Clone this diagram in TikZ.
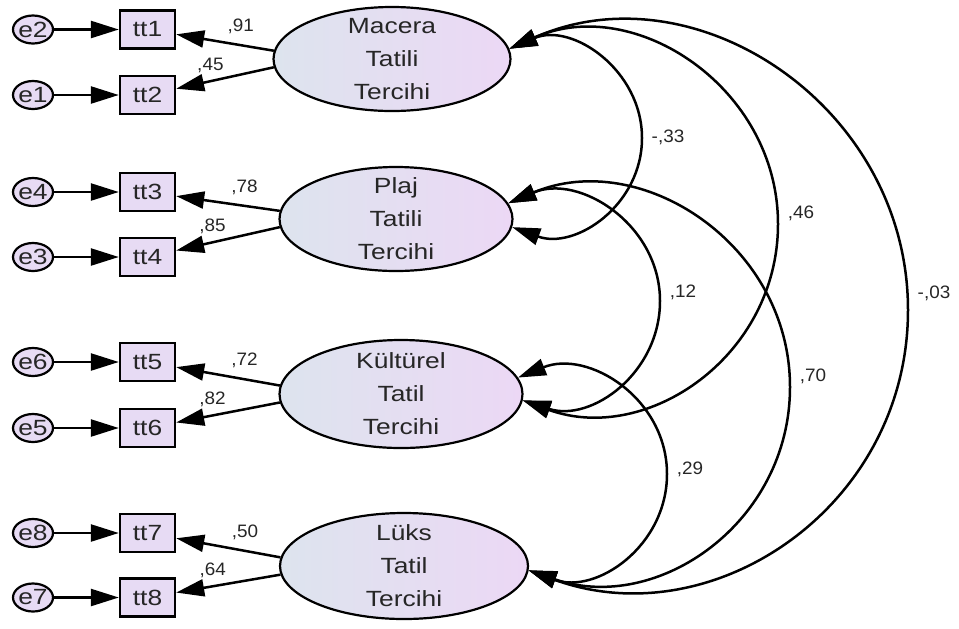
\documentclass[tikz,border=0pt]{standalone}
\usepackage{fontspec}
\usepackage{graphicx}
\setmainfont{Liberation Sans}
\usetikzlibrary{arrows.meta,shapes.geometric}

\definecolor{latleft}{RGB}{221,228,238}
\definecolor{latright}{RGB}{236,216,245}
\definecolor{obsfill}{RGB}{231,219,244}
\definecolor{inktext}{RGB}{38,38,38}

% the diagram is wider than tall: text is stretched sideways
\newcommand{\widen}[1]{\scalebox{1.2}[1]{#1}}
\newcommand{\widecoef}[1]{\scalebox{1.05}[1]{#1}}

\tikzset{
  latent/.style={ellipse, draw, line width=1.1pt, left color=latleft, right color=latright,
    inner xsep=0pt, inner ysep=-4pt, align=center, text=inktext,
    font=\fontsize{11}{16.5}\selectfont},
  indicator/.style={rectangle, draw, line width=1.2pt, fill=obsfill, inner sep=0pt,
    minimum width=27.5pt, minimum height=19pt, text=inktext, font=\fontsize{11}{12}\selectfont},
  errnode/.style={ellipse, draw, line width=1.1pt, fill=obsfill, inner xsep=-3pt, inner ysep=-1pt,
    minimum width=20pt, minimum height=14pt, text=inktext, font=\fontsize{11}{12}\selectfont},
  regpath/.style={line width=1.25pt, -{Triangle[length=14pt,width=8.5pt]}},
  cov/.style={line width=1.25pt, {Triangle[length=14pt,width=8.5pt]}-{Triangle[length=14pt,width=8.5pt]},
    looseness=1.09},
  coef/.style={text=inktext, inner sep=1pt, font=\fontsize{9}{10}\selectfont},
}

\begin{document}
\begin{tikzpicture}[x=0.5pt,y=0.5pt]
  \useasboundingbox (0,0) rectangle (959,-628);

  % latent factors
  \node[latent, minimum width=118.5pt, minimum height=52pt] (mac) at (392,-59)
    {\widen{Macera}\\\widen{Tatili}\\\widen{Tercihi}};
  \node[latent, minimum width=116.5pt, minimum height=52pt] (pla) at (396,-219)
    {\widen{Plaj}\\\widen{Tatili}\\\widen{Tercihi}};
  \node[latent, minimum width=121.5pt, minimum height=54pt] (kul) at (401,-394)
    {\widen{Kültürel}\\\widen{Tatil}\\\widen{Tercihi}};
  \node[latent, minimum width=124pt, minimum height=53pt] (luk) at (404,-566)
    {\widen{Lüks}\\\widen{Tatil}\\\widen{Tercihi}};

  % indicators with their errors
  \foreach \lat/\k/\ya/\yb/\la/\lb in {mac/1/29.5/95/{,91}/{,45}, pla/2/192/257/{,78}/{,85},
                                      kul/3/362/428/{,72}/{,82}, luk/4/533/597.5/{,50}/{,64}}{
    \pgfmathtruncatemacro{\up}{2*\k-1}
    \pgfmathtruncatemacro{\dn}{2*\k}
    \node[indicator] (tt\up) at (147.5,-\ya) {\widen{tt\up}};
    \node[indicator] (tt\dn) at (147.5,-\yb) {\widen{tt\dn}};
    \node[errnode] (e\dn) at (33,-\ya) {\widen{e\dn}};
    \node[errnode] (e\up) at (33,-\yb) {\widen{e\up}};
    \draw[regpath] (e\dn) -- (tt\up);
    \draw[regpath] (e\up) -- (tt\dn);
    \draw[regpath] (\lat.176) -- node[coef, pos=.34, above=4pt] {\widecoef{\la}} (tt\up);
    \draw[regpath] (\lat.184) -- node[coef, pos=.65, above=2.5pt] {\widecoef{\lb}} (tt\dn);
  }

  % covariances, each bending round its outermost point
  \coordinate (c33) at (642,-138);
  \coordinate (c46) at (778,-224);
  \coordinate (c03) at (908,-310);
  \coordinate (c12) at (660,-301);
  \coordinate (c70) at (790,-387);
  \coordinate (c29) at (667,-474);
  \draw[cov] (mac.5) to[out=23,in=90] (c33) to[out=-90,in=-20] (pla.-4);
  \draw[cov] (mac.5) to[out=24,in=90] (c46) to[out=-90,in=-20] (kul.-3);
  \draw[cov] (mac.5) to[out=24,in=90] (c03) to[out=-90,in=-20] (luk.-2);
  \draw[cov] (pla.8) to[out=23,in=90] (c12) to[out=-90,in=-18] (kul.-3);
  \draw[cov] (pla.8) to[out=23,in=90] (c70) to[out=-90,in=-19] (luk.-2);
  \draw[cov] (kul.8) to[out=22,in=90] (c29) to[out=-90,in=-20] (luk.-2);
  \node[coef] (l33) at (668,-137) {\widecoef{-,33}};
  \node[coef] (l46) at (801,-213) {\widecoef{,46}};
  \node[coef] (l03) at (934,-293) {\widecoef{-,03}};
  \node[coef] (l12) at (683,-292) {\widecoef{,12}};
  \node[coef] (l70) at (813,-376) {\widecoef{,70}};
  \node[coef] (l29) at (690,-469) {\widecoef{,29}};
\end{tikzpicture}
\end{document}
